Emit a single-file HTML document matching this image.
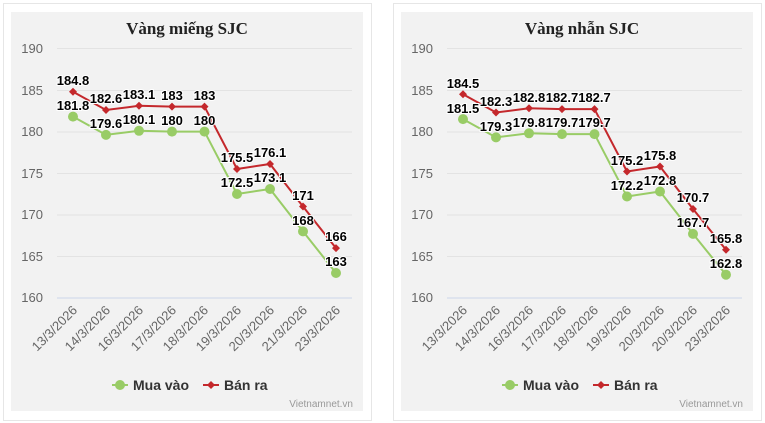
<!DOCTYPE html>
<html><head><meta charset="utf-8"><style>
body{margin:0;background:#fff;}
svg{display:block;font-family:"Liberation Sans",sans-serif;}
.yl{font-size:13px;fill:#666;text-anchor:end}
.xl{font-size:13px;fill:#666;text-anchor:end}
.dl{font-size:13px;font-weight:bold;fill:#000;text-anchor:middle;stroke:#fff;stroke-width:2px;paint-order:stroke}
.t{font-family:"Liberation Serif",serif;font-size:17px;font-weight:bold;text-anchor:middle;fill:#222}
.g{stroke:#e3e3e3;stroke-width:1}
.lg{font-size:14px;font-weight:bold;fill:#333}
.wm{font-size:10px;fill:#999;text-anchor:end}
</style></head><body>
<svg width="765" height="423" viewBox="0 0 765 423">
<rect x="3.5" y="3.5" width="368" height="417" fill="#fff" stroke="#e6e6e6"/>
<rect x="393.5" y="3.5" width="368" height="417" fill="#fff" stroke="#e6e6e6"/>
<g id="L">
<rect x="11" y="12" width="352" height="399" fill="#f2f2f2"/>
<text class="t" x="187" y="34">Vàng miếng SJC</text>
<g class="g"><line x1="57" x2="352" y1="48.5" y2="48.5"/><line x1="57" x2="352" y1="90.5" y2="90.5"/><line x1="57" x2="352" y1="132" y2="132"/><line x1="57" x2="352" y1="173.5" y2="173.5"/><line x1="57" x2="352" y1="215" y2="215"/><line x1="57" x2="352" y1="256.5" y2="256.5"/><line x1="57" x2="352" y1="298" y2="298" stroke="#ccd6eb"/></g>
<text class="yl" x="43" y="53">190</text><text class="yl" x="43" y="95">185</text><text class="yl" x="43" y="136">180</text><text class="yl" x="43" y="178">175</text><text class="yl" x="43" y="219">170</text><text class="yl" x="43" y="261">165</text><text class="yl" x="43" y="302">160</text>
<g class="xl">
<text transform="translate(78,311) rotate(-45)">13/3/2026</text><text transform="translate(111,311) rotate(-45)">14/3/2026</text><text transform="translate(144,311) rotate(-45)">16/3/2026</text><text transform="translate(177,311) rotate(-45)">17/3/2026</text><text transform="translate(209,311) rotate(-45)">18/3/2026</text><text transform="translate(242,311) rotate(-45)">19/3/2026</text><text transform="translate(275,311) rotate(-45)">20/3/2026</text><text transform="translate(308,311) rotate(-45)">21/3/2026</text><text transform="translate(341,311) rotate(-45)">23/3/2026</text>
</g>
<polyline fill="none" stroke="#99cc66" stroke-width="2" points="73,116.6 106,134.9 139,130.8 172,131.6 204.5,131.6 237,194 270,189 303,231.4 336,273"/>
<polyline fill="none" stroke="#c4282c" stroke-width="2" points="73,91.7 106,110 139,105.8 172,106.6 204.5,106.6 237,169 270,164 303,206.5 336,248.1"/>
<g fill="#99cc66"><circle cx="73" cy="116.6" r="5"/><circle cx="106" cy="134.9" r="5"/><circle cx="139" cy="130.8" r="5"/><circle cx="172" cy="131.6" r="5"/><circle cx="204.5" cy="131.6" r="5"/><circle cx="237" cy="194" r="5"/><circle cx="270" cy="189" r="5"/><circle cx="303" cy="231.4" r="5"/><circle cx="336" cy="273" r="5"/></g>
<g fill="#c4282c"><path d="M73 87.7l4 4-4 4-4-4z"/><path d="M106 106l4 4-4 4-4-4z"/><path d="M139 101.8l4 4-4 4-4-4z"/><path d="M172 102.6l4 4-4 4-4-4z"/><path d="M204.5 102.6l4 4-4 4-4-4z"/><path d="M237 165l4 4-4 4-4-4z"/><path d="M270 160l4 4-4 4-4-4z"/><path d="M303 202.5l4 4-4 4-4-4z"/><path d="M336 244.1l4 4-4 4-4-4z"/></g>
<g class="dl">
<text x="73" y="110">181.8</text><text x="106" y="128">179.6</text><text x="139" y="124">180.1</text><text x="172" y="125">180</text><text x="204.5" y="125">180</text><text x="237" y="187">172.5</text><text x="270" y="182">173.1</text><text x="303" y="225">168</text><text x="336" y="266">163</text>
<text x="73" y="85">184.8</text><text x="106" y="103">182.6</text><text x="139" y="99">183.1</text><text x="172" y="100">183</text><text x="204.5" y="100">183</text><text x="237" y="162">175.5</text><text x="270" y="157">176.1</text><text x="303" y="200">171</text><text x="336" y="241">166</text>
</g>
<line x1="112" x2="128" y1="385" y2="385" stroke="#99cc66" stroke-width="2"/><circle cx="120" cy="385" r="5" fill="#99cc66"/>
<text class="lg" x="133" y="390">Mua vào</text>
<line x1="203" x2="219" y1="385" y2="385" stroke="#c4282c" stroke-width="2"/><path d="M211 381l4 4-4 4-4-4z" fill="#c4282c"/>
<text class="lg" x="224" y="390">Bán ra</text>
</g>
<g transform="translate(390,0)">
<rect x="11" y="12" width="352" height="399" fill="#f2f2f2"/>
<text class="t" x="192" y="34">Vàng nhẫn SJC</text>
<g class="g"><line x1="57" x2="352" y1="48.5" y2="48.5"/><line x1="57" x2="352" y1="90.5" y2="90.5"/><line x1="57" x2="352" y1="132" y2="132"/><line x1="57" x2="352" y1="173.5" y2="173.5"/><line x1="57" x2="352" y1="215" y2="215"/><line x1="57" x2="352" y1="256.5" y2="256.5"/><line x1="57" x2="352" y1="298" y2="298" stroke="#ccd6eb"/></g>
<text class="yl" x="43" y="53">190</text><text class="yl" x="43" y="95">185</text><text class="yl" x="43" y="136">180</text><text class="yl" x="43" y="178">175</text><text class="yl" x="43" y="219">170</text><text class="yl" x="43" y="261">165</text><text class="yl" x="43" y="302">160</text>
<g class="xl">
<text transform="translate(78,311) rotate(-45)">13/3/2026</text><text transform="translate(111,311) rotate(-45)">14/3/2026</text><text transform="translate(144,311) rotate(-45)">16/3/2026</text><text transform="translate(177,311) rotate(-45)">17/3/2026</text><text transform="translate(209,311) rotate(-45)">18/3/2026</text><text transform="translate(242,311) rotate(-45)">19/3/2026</text><text transform="translate(275,311) rotate(-45)">20/3/2026</text><text transform="translate(308,311) rotate(-45)">20/3/2026</text><text transform="translate(341,311) rotate(-45)">23/3/2026</text>
</g>
<polyline fill="none" stroke="#99cc66" stroke-width="2" points="73,119.1 106,137.4 139,133.3 172,134.1 204.5,134.1 237,196.5 270,191.5 303,233.9 336,274.7"/>
<polyline fill="none" stroke="#c4282c" stroke-width="2" points="73,94.2 106,112.5 139,108.3 172,109.1 204.5,109.1 237,171.5 270,166.5 303,209 336,249.7"/>
<g fill="#99cc66"><circle cx="73" cy="119.1" r="5"/><circle cx="106" cy="137.4" r="5"/><circle cx="139" cy="133.3" r="5"/><circle cx="172" cy="134.1" r="5"/><circle cx="204.5" cy="134.1" r="5"/><circle cx="237" cy="196.5" r="5"/><circle cx="270" cy="191.5" r="5"/><circle cx="303" cy="233.9" r="5"/><circle cx="336" cy="274.7" r="5"/></g>
<g fill="#c4282c"><path d="M73 90.2l4 4-4 4-4-4z"/><path d="M106 108.5l4 4-4 4-4-4z"/><path d="M139 104.3l4 4-4 4-4-4z"/><path d="M172 105.1l4 4-4 4-4-4z"/><path d="M204.5 105.1l4 4-4 4-4-4z"/><path d="M237 167.5l4 4-4 4-4-4z"/><path d="M270 162.5l4 4-4 4-4-4z"/><path d="M303 205l4 4-4 4-4-4z"/><path d="M336 245.7l4 4-4 4-4-4z"/></g>
<g class="dl">
<text x="73" y="113">181.5</text><text x="106" y="131">179.3</text><text x="139" y="127">179.8</text><text x="172" y="127">179.7</text><text x="204.5" y="127">179.7</text><text x="237" y="190">172.2</text><text x="270" y="185">172.8</text><text x="303" y="227">167.7</text><text x="336" y="268">162.8</text>
<text x="73" y="88">184.5</text><text x="106" y="106">182.3</text><text x="139" y="102">182.8</text><text x="172" y="102">182.7</text><text x="204.5" y="102">182.7</text><text x="237" y="165">175.2</text><text x="270" y="160">175.8</text><text x="303" y="202">170.7</text><text x="336" y="243">165.8</text>
</g>
<line x1="112" x2="128" y1="385" y2="385" stroke="#99cc66" stroke-width="2"/><circle cx="120" cy="385" r="5" fill="#99cc66"/>
<text class="lg" x="133" y="390">Mua vào</text>
<line x1="203" x2="219" y1="385" y2="385" stroke="#c4282c" stroke-width="2"/><path d="M211 381l4 4-4 4-4-4z" fill="#c4282c"/>
<text class="lg" x="224" y="390">Bán ra</text>
<text class="wm" x="353" y="407">Vietnamnet.vn</text>
</g>
<text class="wm" x="353" y="407">Vietnamnet.vn</text>
</svg>
</body></html>
